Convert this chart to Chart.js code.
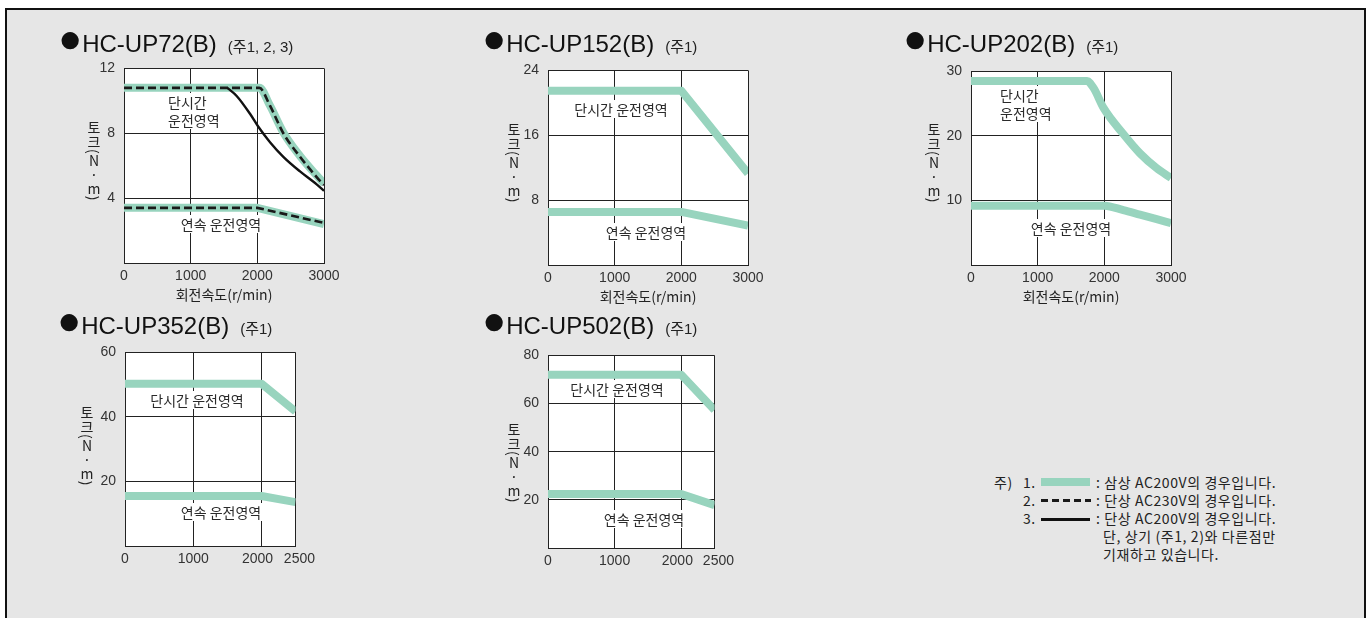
<!DOCTYPE html>
<html>
<head>
<meta charset="utf-8">
<script src="https://cdn.jsdelivr.net/npm/chart.js@4/dist/chart.umd.min.js"></script>
<style>
html,body{margin:0;padding:0;background:#fff;width:1367px;height:618px;overflow:hidden;position:relative;}
#frame{position:absolute;left:5px;top:8px;width:1361px;height:620px;box-sizing:border-box;background:#e6e6e6;border-left:2px solid #111;border-top:2px solid #111;border-right:2px solid #111;}
.abs{position:absolute;white-space:nowrap;}
canvas{position:absolute;}
.title{font-family:"Liberation Sans",Arial,sans-serif;font-size:24px;line-height:24px;color:#111;}
.title .dot{font-size:40px;line-height:0;}
.title .sub{font-family:"Liberation Sans","Noto Sans CJK KR",sans-serif;font-size:15px;margin-left:11px;color:#222;}
.region{font-family:"Noto Sans CJK KR",sans-serif;font-size:14px;line-height:18px;color:#2a2a2a;background:#fff;padding:0 2px;}
.ylab{font-family:"Noto Sans CJK KR",sans-serif;font-size:14px;line-height:14px;color:#222;writing-mode:vertical-rl;text-orientation:upright;}
.ylab .rot{text-orientation:mixed;}
.note{font-family:"Noto Sans CJK KR",sans-serif;font-size:14px;line-height:18px;color:#222;letter-spacing:0.6px;}
</style>
</head>
<body>
<div id="frame"></div>
<script>
// ---------------- DATA ----------------
// HC-UP72(B)
const up72XTicks = [0, 1000, 2000, 3000];
const up72XLabels = ['0', '1000', '2000', '3000'];
const up72PeakSpeed = [0, 2030, 2190, 2390, 2640, 2890, 3000];
const up72PeakTorque = [10.8, 10.8, 9.7, 8.05, 6.6, 5.4, 4.9];          // 3-phase AC200V
const up72Peak230Torque = [10.8, 10.8, 9.7, 8.0, 6.55, 5.3, 4.8];        // 1-phase AC230V
const up72ContSpeed = [0, 2000, 3000];
const up72ContTorque = [3.4, 3.4, 2.4];
const up72Cont230Torque = [3.4, 3.4, 2.47];
const up72Peak1ph200Speed = [1550, 1690, 1890, 2015, 2190, 2390, 2640, 2890, 3000];
const up72Peak1ph200Torque = [10.8, 10.3, 9.2, 8.4, 7.45, 6.55, 5.65, 4.85, 4.45];

// HC-UP152(B)
const up152XTicks = [0, 1000, 2000, 3000];
const up152XLabels = ['0', '1000', '2000', '3000'];
const up152PeakSpeed = [0, 2000, 3000];
const up152PeakTorque = [21.5, 21.5, 11.3];
const up152ContSpeed = [0, 2000, 3000];
const up152ContTorque = [6.55, 6.55, 4.85];

// HC-UP202(B)
const up202XTicks = [0, 1000, 2000, 3000];
const up202XLabels = ['0', '1000', '2000', '3000'];
const up202PeakSpeed = [0, 1740, 1840, 1990, 2285, 2535, 2785, 3000];
const up202PeakTorque = [28.5, 28.5, 27.4, 24.3, 20.3, 17.3, 15.0, 13.5];
const up202ContSpeed = [0, 2000, 2285, 2535, 2785, 3000];
const up202ContTorque = [9.2, 9.2, 8.5, 7.8, 7.1, 6.5];

// HC-UP352(B)
const up352XTicks = [0, 1000, 2000, 2500];
const up352XLabels = ['0', '1000', '2000  ', '  2500'];
const up352PeakSpeed = [0, 2000, 2500];
const up352PeakTorque = [50.3, 50.3, 41.7];
const up352ContSpeed = [0, 2000, 2500];
const up352ContTorque = [15.5, 15.5, 13.6];

// HC-UP502(B)
const up502XTicks = [0, 1000, 2000, 2500];
const up502XLabels = ['0', '1000', '2000  ', '  2500'];
const up502PeakSpeed = [0, 2000, 2500];
const up502PeakTorque = [72.0, 72.0, 57.3];
const up502ContSpeed = [0, 2000, 2500];
const up502ContTorque = [22.4, 22.4, 17.8];

const xAxisTitle = '회전속도(r/min)';

// ---------------- STYLE HELPERS ----------------
const GREEN = '#98d4be';
const INK = '#222';
const TICK_FONT = {family: '"Liberation Sans Narrow","Liberation Sans",sans-serif', size: 14};
const pts = (xs, ys) => xs.map((x, i) => ({x: x, y: ys[i]}));
function greenSet(xs, ys, smooth) {
  return {data: pts(xs, ys), borderColor: GREEN, borderWidth: 8, pointRadius: 0, order: 3, clip: 0,
    tension: 0, cubicInterpolationMode: smooth ? 'monotone' : 'default', borderCapStyle: 'butt', borderJoinStyle: 'round'};
}
function dashSet(xs, ys, smooth) {
  return {data: pts(xs, ys), borderColor: '#1a1a1a', borderWidth: 2.6, borderDash: [8, 4], pointRadius: 0, order: 2, clip: 0,
    tension: 0, cubicInterpolationMode: smooth ? 'monotone' : 'default', borderCapStyle: 'butt'};
}
function solidSet(xs, ys, smooth) {
  return {data: pts(xs, ys), borderColor: '#111', borderWidth: 2.4, pointRadius: 0, order: 1, clip: 0,
    tension: 0, cubicInterpolationMode: smooth ? 'monotone' : 'default', borderCapStyle: 'butt'};
}

const plotBg = {id: 'plotBg', beforeDraw(c) {
  const a = c.chartArea, x = c.ctx; x.save(); x.fillStyle = '#fff'; x.fillRect(a.left, a.top, a.width, a.height); x.restore();
}};

const YW = 50, XH = 46, PT = 14, PR = 24;
function makeChart(rect, xMax, xTicks, xLabels, yMax, yStep, datasets, showXTitle) {
  const [L, T, W, H] = rect;
  const cv = document.createElement('canvas');
  const cw = W + YW + PR, ch = H + PT + XH;
  cv.width = cw; cv.height = ch;
  cv.style.left = (L - YW) + 'px'; cv.style.top = (T - PT) + 'px';
  cv.style.width = cw + 'px'; cv.style.height = ch + 'px';
  document.body.appendChild(cv);
  new Chart(cv, {
    type: 'line',
    data: {datasets: datasets},
    options: {
      responsive: false, animation: false, devicePixelRatio: 1,
      layout: {padding: {top: PT, right: PR, left: 0, bottom: 0}},
      plugins: {legend: {display: false}, tooltip: {enabled: false}},
      scales: {
        x: {
          type: 'linear', min: 0, max: xMax,
          afterBuildTicks: s => { s.ticks = xTicks.map(v => ({value: v})); },
          afterFit: s => { s.height = XH; },
          grid: {color: INK, lineWidth: 1, drawTicks: false},
          border: {color: INK, width: 1},
          ticks: {autoSkip: false, maxRotation: 0, padding: 5, color: '#333', font: TICK_FONT,
            callback: (v, i) => xLabels[i]},
          title: {display: showXTitle, text: xAxisTitle, color: '#222', padding: {top: 0, bottom: 6},
            font: {family: '"Noto Sans CJK KR",sans-serif', size: 14}}
        },
        y: {
          min: 0, max: yMax,
          afterFit: s => { s.width = YW; },
          grid: {color: INK, lineWidth: 1, drawTicks: false},
          border: {color: INK, width: 1},
          ticks: {stepSize: yStep, padding: 9, color: '#333', font: TICK_FONT, callback: v => (v === 0 ? '' : String(v))}
        }
      }
    },
    plugins: [plotBg]
  });
}

makeChart([124, 65, 200, 198], 3000, up72XTicks, up72XLabels, 12, 4, [
  greenSet(up72PeakSpeed, up72PeakTorque, true),
  greenSet(up72ContSpeed, up72ContTorque, false),
  dashSet(up72PeakSpeed, up72Peak230Torque, true),
  dashSet(up72ContSpeed, up72Cont230Torque, false),
  solidSet(up72Peak1ph200Speed, up72Peak1ph200Torque, true)
], true);
makeChart([548, 67, 200, 198], 3000, up152XTicks, up152XLabels, 24, 8, [
  greenSet(up152PeakSpeed, up152PeakTorque, false),
  greenSet(up152ContSpeed, up152ContTorque, false)
], true);
makeChart([971, 68, 200, 197], 3000, up202XTicks, up202XLabels, 30, 10, [
  greenSet(up202PeakSpeed, up202PeakTorque, true),
  greenSet(up202ContSpeed, up202ContTorque, true)
], true);
makeChart([125, 349, 171, 197], 2500, up352XTicks, up352XLabels, 60, 20, [
  greenSet(up352PeakSpeed, up352PeakTorque, false),
  greenSet(up352ContSpeed, up352ContTorque, false)
], false);
makeChart([548, 352, 167, 196], 2500, up502XTicks, up502XLabels, 80, 20, [
  greenSet(up502PeakSpeed, up502PeakTorque, false),
  greenSet(up502ContSpeed, up502ContTorque, false)
], false);

// ---------------- TEXT ----------------
function addDiv(cls, html, css) {
  const d = document.createElement('div');
  d.className = 'abs ' + cls; d.innerHTML = html; d.style.cssText += css;
  document.body.appendChild(d); return d;
}
// titles
addDiv('title', '<span class="dot">●</span>HC-UP72(B)<span class="sub">(주1, 2, 3)</span>', 'left:58px;top:32px;');
addDiv('title', '<span class="dot">●</span>HC-UP152(B)<span class="sub">(주1)</span>', 'left:482px;top:32px;');
addDiv('title', '<span class="dot">●</span>HC-UP202(B)<span class="sub">(주1)</span>', 'left:903px;top:32px;');
addDiv('title', '<span class="dot">●</span>HC-UP352(B)<span class="sub">(주1)</span>', 'left:57px;top:314px;');
addDiv('title', '<span class="dot">●</span>HC-UP502(B)<span class="sub">(주1)</span>', 'left:482px;top:314px;');

// y-axis labels
const yLab = '토크<span class="rot">(</span>N·m<span class="rot">)</span>';
[[94, 121], [514, 123], [934, 123], [87, 406], [514, 423]].forEach(p => {
  addDiv('ylab', yLab, 'left:' + (p[0] - 7) + 'px;top:' + p[1] + 'px;');
});

// region labels
function region(text, cx, cy, left) {
  return addDiv('region', text, 'top:' + cy + 'px;' + (left ? 'left:' + cx + 'px;transform:translateY(-50%);' : 'left:' + cx + 'px;transform:translate(-50%,-50%);'));
}
region('단시간<br>운전영역', 166, 111, true);
region('연속 운전영역', 221, 224);
region('단시간 운전영역', 621, 109);
region('연속 운전영역', 646, 232);
region('단시간<br>운전영역', 998, 104, true);
region('연속 운전영역', 1071, 228);
region('단시간 운전영역', 197, 400);
region('연속 운전영역', 221, 512);
region('단시간 운전영역', 617, 389);
region('연속 운전영역', 644, 519);

// notes
const rows = [482, 500, 518, 536, 554];
addDiv('note', '주)', 'left:994px;top:' + (rows[0] - 9) + 'px;');
addDiv('note', '1.', 'left:1023px;top:' + (rows[0] - 9) + 'px;');
addDiv('note', '2.', 'left:1023px;top:' + (rows[1] - 9) + 'px;');
addDiv('note', '3.', 'left:1023px;top:' + (rows[2] - 9) + 'px;');
addDiv('', '', 'left:1041px;top:' + (rows[0] - 4) + 'px;width:49px;height:8px;background:' + GREEN + ';');
addDiv('', '', 'left:1041px;top:' + (rows[1] - 1) + 'px;width:50px;height:3px;background:repeating-linear-gradient(to right,#1a1a1a 0 7px,transparent 7px 11px);');
addDiv('', '', 'left:1041px;top:' + (rows[2]) + 'px;width:49px;height:2.5px;background:#111;');
addDiv('note', ': 삼상 AC200V의 경우입니다.', 'left:1096px;top:' + (rows[0] - 9) + 'px;');
addDiv('note', ': 단상 AC230V의 경우입니다.', 'left:1096px;top:' + (rows[1] - 9) + 'px;');
addDiv('note', ': 단상 AC200V의 경우입니다.', 'left:1096px;top:' + (rows[2] - 9) + 'px;');
addDiv('note', '단, 상기 (주1, 2)와 다른점만', 'left:1103px;top:' + (rows[3] - 9) + 'px;');
addDiv('note', '기재하고 있습니다.', 'left:1103px;top:' + (rows[4] - 9) + 'px;');
</script>
</body>
</html>
